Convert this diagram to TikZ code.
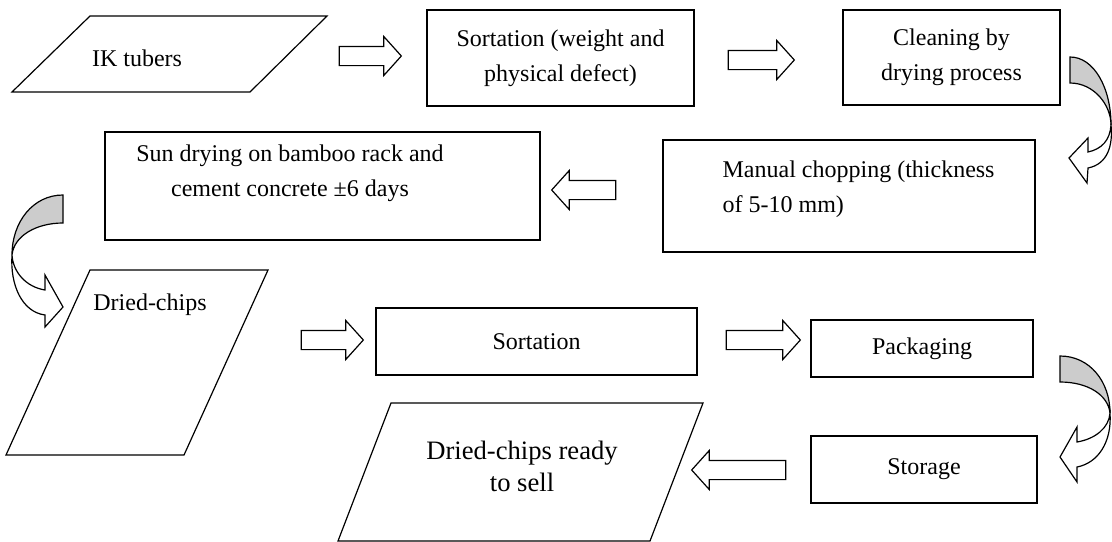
\documentclass[tikz,border=0pt]{standalone}
\usepackage{fontspec}
\setmainfont{Liberation Serif}
\usepackage{tikz}
\usetikzlibrary{shapes.arrows,positioning}
\definecolor{bandgray}{RGB}{204,204,204}

\begin{document}
\begin{tikzpicture}[x=0.5pt,y=-0.5pt,line width=0.6pt,
  procbox/.style={draw,rectangle,align=center,inner sep=0pt,font=\fontsize{12}{17.5}\selectfont},
  plaintext/.style={align=center,inner sep=0pt,font=\fontsize{12}{17.5}\selectfont},
  blockarr/.style={single arrow,draw,fill=white,inner xsep=0pt,inner ysep=4.5pt,
    single arrow head extend=5pt,single arrow tip angle=96},
  band/.style={draw,fill=bandgray},
  bandfront/.style={draw,fill=white}]
 \useasboundingbox (0,0) rectangle (1112,541);
 % first row
 \draw (12,92)--(90,16)--(327,16)--(250,92)--cycle;
 \node[plaintext] (ik) at (137,58) {IK tubers};
 \node[blockarr,minimum height=31pt] (a1) at (366,56) {};
 \node[procbox,minimum width=133.5pt,minimum height=48pt] (sortw) at (560.5,58)
  {Sortation (weight and\\physical defect)};
 \node[blockarr,minimum height=33pt] (a2) at (757,60) {};
 \node[procbox,minimum width=108.5pt,minimum height=47.5pt] (clean) at (951.5,57.5)
  {Cleaning by\\drying process};
 \filldraw[band] (1070,57) .. controls (1094,57) and (1111,88) .. (1111,125)
  .. controls (1111,105) and (1094,83) .. (1070,83) -- cycle;
 \filldraw[bandfront] (1111,125) .. controls (1110,140) and (1102,149) .. (1088,152)
  -- (1088,138) -- (1069,158) -- (1087,183) -- (1088,168)
  .. controls (1108,164) and (1113,145) .. (1111,125) -- cycle;
 % second row
 \node[procbox,minimum width=186pt,minimum height=56pt] (chop) at (849,196) {};
 \node[plaintext,align=left,anchor=west] (choptxt) at (722,189.5)
  {Manual chopping (thickness\\of 5-10 mm)};
 \node[blockarr,minimum height=32pt,shape border rotate=180] (a3) at (588,190) {};
 \node[procbox,minimum width=217.5pt,minimum height=54pt] (sun) at (322.5,186) {};
 \node[plaintext] (suntxt) at (290,173)
  {Sun drying on bamboo rack and\\cement concrete ±6 days};
 \filldraw[band] (63,195) .. controls (33,195) and (12,222) .. (12,255)
  .. controls (14,236) and (36,223) .. (63,223) -- cycle;
 \filldraw[bandfront] (12,255) .. controls (13,272) and (26,287) .. (45,290)
  -- (45,275) -- (63,307) -- (45,327) -- (45,315)
  .. controls (22,312) and (10,285) .. (12,255) -- cycle;
 % third row
 \draw (6,455)--(90,270)--(268,270)--(184,455)--cycle;
 \node[plaintext] (dried) at (150,305) {Dried-chips};
 \node[blockarr,minimum height=31pt] (a4) at (328,340) {};
 \node[procbox,minimum width=160.5pt,minimum height=33.5pt] (sorted) at (536.5,341.5) {Sortation};
 \node[blockarr,minimum height=37pt] (a5) at (759,340) {};
 \node[procbox,minimum width=111pt,minimum height=28.5pt] (pack) at (922,348.5) {Packaging};
 \filldraw[band] (1060,356) .. controls (1090,356) and (1110,382) .. (1110,413)
  .. controls (1108,395) and (1088,382) .. (1060,382) -- cycle;
 \filldraw[bandfront] (1110,413) .. controls (1109,428) and (1095,439) .. (1077,442)
  -- (1077,427) -- (1060,457) -- (1077,482) -- (1077,467)
  .. controls (1098,463) and (1112,442) .. (1110,413) -- cycle;
 % last row
 \node[procbox,minimum width=113pt,minimum height=33.5pt] (store) at (924,469.5) {Storage};
 \node[blockarr,minimum height=47pt,shape border rotate=180] (a6) at (743,470) {};
 \draw (338,541)--(391,403)--(703,403)--(650,541)--cycle;
 \node[plaintext,font=\fontsize{13.3}{16}\selectfont] (ready) at (522,466)
  {Dried-chips ready\\to sell};
\end{tikzpicture}
\end{document}
